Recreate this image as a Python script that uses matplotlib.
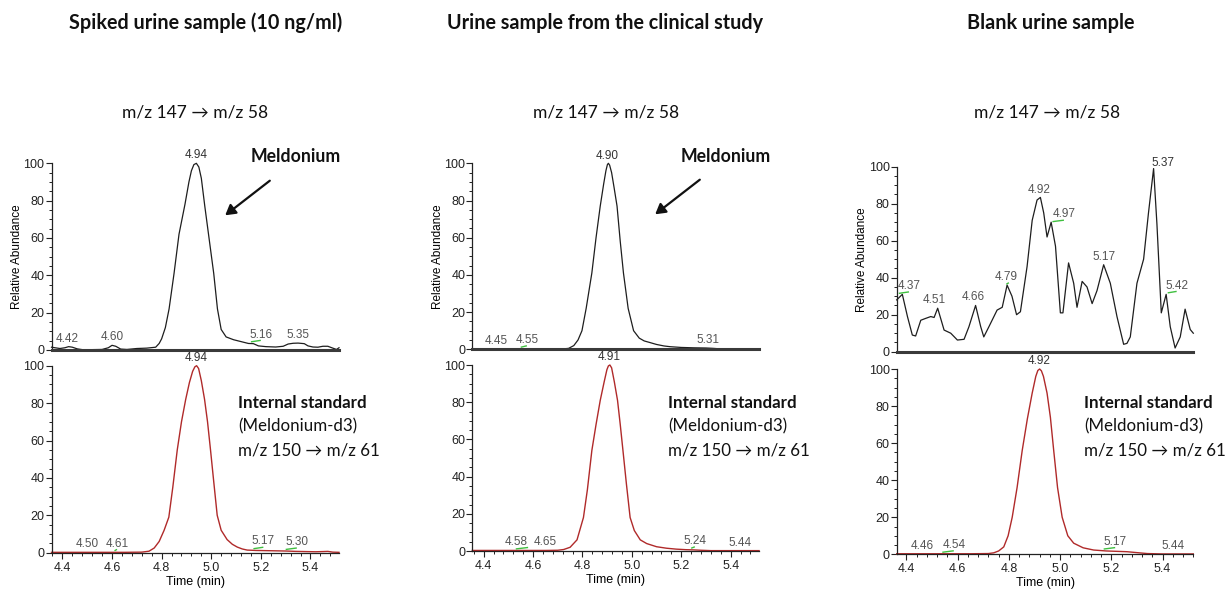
import numpy as np
import matplotlib
matplotlib.use("Agg")
import matplotlib.pyplot as plt
from matplotlib.ticker import MultipleLocator

# ── Data ──────────────────────────────────────────────────────────────────────
# Spiked urine sample, m/z 147 -> 58
SPIKE_T = [4.356, 4.37, 4.39, 4.41, 4.425, 4.44, 4.46, 4.48, 4.52, 4.56, 4.585, 4.60,
           4.615, 4.635, 4.66, 4.70, 4.74, 4.776, 4.79, 4.80, 4.815, 4.83, 4.85, 4.87,
           4.894, 4.91, 4.92, 4.93, 4.94, 4.95, 4.96, 4.974, 4.985, 4.997, 5.01, 5.025,
           5.04, 5.06, 5.09, 5.12, 5.15, 5.17, 5.19, 5.22, 5.26, 5.29, 5.31, 5.33, 5.35,
           5.375, 5.39, 5.41, 5.43, 5.45, 5.47, 5.49, 5.505, 5.515]
SPIKE_V = [1.5, 1.2, 0.8, 1.2, 1.8, 1.5, 0.6, 0.2, 0.2, 0.3, 1.2, 2.5,
           2.0, 0.5, 0.3, 0.8, 1.0, 1.5, 3.5, 6, 12, 22, 41, 62,
           78, 90, 96, 99.3, 100, 98, 92, 77, 66, 54, 41, 22,
           11, 7, 5.5, 4.5, 3.5, 3.4, 2.2, 1.8, 1.6, 2.0, 3.2, 3.6, 3.7,
           3.4, 2.2, 1.6, 1.5, 2.0, 2.0, 1.0, 0.3, 1.2]
# Spiked urine sample, internal standard m/z 150 -> 61
SPIKE_IS_T = [4.356, 4.45, 4.55, 4.65, 4.72, 4.749, 4.77, 4.79, 4.81, 4.829, 4.845, 4.863,
              4.88, 4.897, 4.912, 4.925, 4.934, 4.941, 4.949, 4.96, 4.973, 4.985, 4.997,
              5.01, 5.024, 5.04, 5.064, 5.085, 5.105, 5.125, 5.145, 5.18, 5.22, 5.26,
              5.30, 5.34, 5.38, 5.42, 5.45, 5.47, 5.49, 5.515]
SPIKE_IS_V = [0.2, 0.2, 0.2, 0.2, 0.3, 0.8, 2.5, 6, 12, 19, 35, 55,
              70, 82, 91, 97, 99.4, 100, 98.5, 92, 82, 70, 55,
              38, 20, 12, 7, 4.5, 3, 2, 1.4, 1.2, 1.1, 1.0,
              0.9, 0.7, 0.6, 0.5, 0.6, 0.7, 0.3, 0.2]

# Clinical study sample, m/z 147 -> 58
CLIN_T = [4.354, 4.45, 4.55, 4.65, 4.72, 4.744, 4.765, 4.782, 4.798, 4.815, 4.838, 4.855,
          4.872, 4.886, 4.895, 4.901, 4.905, 4.91, 4.918, 4.928, 4.94, 4.953, 4.966, 4.985,
          5.007, 5.03, 5.05, 5.074, 5.1, 5.13, 5.155, 5.2, 5.25, 5.3, 5.33, 5.36, 5.4,
          5.45, 5.515]
CLIN_V = [0.2, 0.2, 0.3, 0.2, 0.2, 0.5, 2, 5, 10, 22, 41, 60,
          77, 89, 96, 99.3, 100, 99, 95, 87, 77, 58, 41, 22,
          10, 6, 4.5, 3.6, 2.6, 1.8, 1.4, 1.0, 0.8, 0.7, 0.5, 0.2, 0.2,
          0.2, 0.2]
# Clinical study sample, internal standard
CLIN_IS_T = [4.354, 4.45, 4.55, 4.65, 4.70, 4.724, 4.75, 4.778, 4.804, 4.82, 4.838, 4.855,
             4.872, 4.888, 4.899, 4.905, 4.911, 4.918, 4.929, 4.942, 4.953, 4.964, 4.978,
             4.993, 5.01, 5.034, 5.06, 5.1, 5.14, 5.18, 5.22, 5.25, 5.28, 5.32, 5.4, 5.515]
CLIN_IS_V = [0.3, 0.3, 0.3, 0.3, 0.4, 0.8, 2, 6, 18, 33, 54, 68,
             81, 91, 97.5, 99.5, 100, 98.5, 91, 81, 68, 54, 36,
             18, 11, 6, 4, 2.3, 1.5, 1.0, 0.7, 0.6, 0.4, 0.2, 0.2, 0.2]

# Blank urine sample, m/z 147 -> 58
BLANK_T = [4.362, 4.384, 4.404, 4.423, 4.436, 4.456, 4.475, 4.495, 4.508, 4.522, 4.547,
           4.573, 4.599, 4.625, 4.644, 4.67, 4.69, 4.702, 4.722, 4.754, 4.774, 4.793,
           4.812, 4.83, 4.845, 4.871, 4.891, 4.91, 4.923, 4.936, 4.949, 4.965, 4.982,
           5.001, 5.011, 5.033, 5.053, 5.066, 5.086, 5.105, 5.125, 5.144, 5.17, 5.196,
           5.222, 5.248, 5.261, 5.274, 5.3, 5.326, 5.345, 5.365, 5.378, 5.395, 5.414,
           5.43, 5.449, 5.469, 5.488, 5.508, 5.52]
BLANK_V = [28, 31, 19, 9, 8.5, 17, 18, 19, 18.5, 23.5, 11.7,
           10, 6.3, 6.7, 13.5, 25, 13.5, 8, 13.5, 22.5, 24, 36,
           30, 20, 21.6, 46, 71, 82, 83.4, 75, 62, 70, 57,
           21, 21, 48, 37, 24, 38, 35, 26, 33, 47, 37,
           19, 4, 4.5, 8, 37, 50, 75, 99, 69, 21, 31,
           13.5, 2, 8, 23, 12, 10]
# Blank urine sample, internal standard
BLANK_IS_T = [4.362, 4.45, 4.55, 4.65, 4.72, 4.741, 4.76, 4.78, 4.797, 4.813, 4.832, 4.852,
              4.872, 4.891, 4.905, 4.913, 4.92, 4.927, 4.935, 4.949, 4.962, 4.975, 4.99,
              5.008, 5.03, 5.053, 5.09, 5.131, 5.18, 5.22, 5.261, 5.3, 5.34, 5.4, 5.52]
BLANK_IS_V = [0.3, 0.3, 0.3, 0.3, 0.4, 0.8, 1.8, 4, 10, 20, 36, 56,
              73, 87, 96, 99.2, 100, 99, 96, 87, 74, 56, 36,
              20, 10, 6, 3.5, 2.3, 1.8, 1.6, 1.4, 0.9, 0.4, 0.2, 0.2]

# Retention-time labels printed on each trace
SPIKE_LABELS = [4.42, 4.60, 4.94, 5.16, 5.35]
SPIKE_IS_LABELS = [4.50, 4.61, 4.94, 5.17, 5.30]
CLIN_LABELS = [4.45, 4.55, 4.90, 5.31]
CLIN_IS_LABELS = [4.58, 4.65, 4.91, 5.24, 5.44]
BLANK_LABELS = [4.37, 4.51, 4.66, 4.79, 4.92, 4.97, 5.17, 5.37, 5.42]
BLANK_IS_LABELS = [4.46, 4.54, 4.92, 5.17, 5.44]

TITLES = ["Spiked urine sample (10 ng/ml)",
          "Urine sample from the clinical study",
          "Blank urine sample"]
TRANSITION = "m/z 147 \u2192 m/z 58"
IS_TEXT = ["Internal standard", "(Meldonium-d3)", "m/z 150 \u2192 m/z 61"]

# ── Layout (pixels on a 1230 x 589 canvas) ────────────────────────────────────
W, H = 1230, 589
# (left, right, top-of-upper, bottom-of-upper, top-of-lower, bottom-of-lower)
PANELS = [(51.5, 339, 163.3, 350, 365.7, 552.7),
          (472.3, 759.3, 163.3, 349.3, 365, 551),
          (896.7, 1193.3, 166.7, 351.7, 369, 554.3)]
XLIMS = [(4.356, 5.515), (4.354, 5.516), (4.362, 5.52)]

# per-label horizontal shift (min) for labels drawn beside a green marker
LABEL_DX = [[0, 0, 0, 0.04, 0],
            [0, 0.01, 0, 0.04, 0.045],
            [0, 0.025, 0, 0],
            [-0.05, 0, 0, 0.015, 0],
            [0.04, 0, 0, 0, 0, 0.045, 0, 0.03, 0.035],
            [0, 0.045, 0, 0.045, 0]]
GREEN = [[0, 0, 0, 1, 0],
         [0, 1, 0, 1, 1],
         [0, 1, 0, 0],
         [1, 0, 0, 1, 0],
         [1, 0, 0, 1, 0, 1, 0, 0, 1],
         [0, 1, 0, 1, 0]]

TICK_FONT = "Liberation Sans"
TEXT_FONT = ["Lato", "DejaVu Sans"]
BLACK_LINE = "#1e1e1e"
RED_LINE = "#b02a2a"
GREEN_MARK = "#3fbf3f"


def px_axes(left, right, top, bottom):
    return [left / W, 1 - bottom / H, (right - left) / W, (bottom - top) / H]


def style_axes(ax, xlim, lower):
    ax.set_xlim(*xlim)
    ax.set_ylim(0, 100)
    ax.spines[["top", "right"]].set_visible(False)
    ax.spines["left"].set_linewidth(0.9)
    ax.spines["left"].set_color("#222222")
    ax.yaxis.set_major_locator(MultipleLocator(20))
    ax.yaxis.set_minor_locator(MultipleLocator(5))
    ax.tick_params(axis="y", which="major", length=4, width=0.8, labelsize=9,
                   pad=1, colors="#222222")
    ax.tick_params(axis="y", which="minor", length=2.5, width=0.7, colors="#222222")
    for lab in ax.get_yticklabels():
        lab.set_family(TICK_FONT)
    if lower:
        ax.spines["bottom"].set_linewidth(0.9)
        ax.spines["bottom"].set_color("#222222")
        ax.xaxis.set_major_locator(MultipleLocator(0.2))
        ax.xaxis.set_minor_locator(MultipleLocator(0.04))
        ax.tick_params(axis="x", which="major", length=4.5, width=0.8, labelsize=9,
                       pad=2, colors="#222222")
        ax.tick_params(axis="x", which="minor", length=2.5, width=0.7, colors="#222222")
        ax.set_xticks(ax.get_xticks())
        ax.set_xticklabels([f"{t:.1f}" for t in ax.get_xticks()], family=TICK_FONT)
        ax.set_xlim(*xlim)
        ax.set_xlabel("Time (min)", fontsize=9, family=TICK_FONT, labelpad=1.5)
    else:
        ax.spines["bottom"].set_linewidth(2.2)
        ax.spines["bottom"].set_color("#3a3a3a")
        ax.tick_params(axis="x", which="both", length=0, labelbottom=False)
        ax.set_ylabel("Relative Abundance", fontsize=8.5, family=TICK_FONT, labelpad=0.5)


def draw_labels(ax, t, v, labels, dxs, greens):
    for lab, dx, g in zip(labels, dxs, greens):
        # label sits just above the local apex of the trace
        y = float(np.max(np.interp(np.linspace(lab - 0.012, lab + 0.012, 13), t, v)))
        top = y > 95
        ax.annotate(f"{lab:.2f}", xy=(lab + dx, y), xytext=(0, 1.5 if not g else 2.0),
                    textcoords="offset points", ha="center", va="bottom",
                    fontsize=8.5, family=TICK_FONT,
                    color="#333333" if top else "#555555", annotation_clip=False)
        if g:
            x0, x1 = sorted((lab, lab + dx if dx != 0 else lab + 0.01))
            ax.plot([x0, x1], [y + 0.8, y + 1.6], color=GREEN_MARK, lw=1.0,
                    solid_capstyle="butt", clip_on=False, zorder=3)


fig = plt.figure(figsize=(W / 100, H / 100), dpi=100)

series = [(SPIKE_T, SPIKE_V, SPIKE_IS_T, SPIKE_IS_V, SPIKE_LABELS, SPIKE_IS_LABELS),
          (CLIN_T, CLIN_V, CLIN_IS_T, CLIN_IS_V, CLIN_LABELS, CLIN_IS_LABELS),
          (BLANK_T, BLANK_V, BLANK_IS_T, BLANK_IS_V, BLANK_LABELS, BLANK_IS_LABELS)]

title_x = [206, 605, 1051]
trans_x = [195, 606, 1047]

for i, (t1, v1, t2, v2, lab1, lab2) in enumerate(series):
    left, right, top1, bot1, top2, bot2 = PANELS[i]
    ax_top = fig.add_axes(px_axes(left, right, top1, bot1))
    ax_bot = fig.add_axes(px_axes(left, right, top2, bot2))

    ax_top.plot(t1, v1, color=BLACK_LINE, lw=0.9, clip_on=False, zorder=2)
    ax_bot.plot(t2, v2, color=RED_LINE, lw=1.0, clip_on=False, zorder=2)

    style_axes(ax_top, XLIMS[i], lower=False)
    style_axes(ax_bot, XLIMS[i], lower=True)

    draw_labels(ax_top, t1, v1, lab1, LABEL_DX[2 * i], GREEN[2 * i])
    draw_labels(ax_bot, t2, v2, lab2, LABEL_DX[2 * i + 1], GREEN[2 * i + 1])

    # panel headings
    fig.text(title_x[i] / W, 1 - 23 / H, TITLES[i], ha="center", va="center",
             fontsize=14.2, fontweight="bold", family=TEXT_FONT, color="#111111")
    fig.text(trans_x[i] / W, 1 - 113 / H, TRANSITION, ha="center", va="center",
             fontsize=12.5, family=TEXT_FONT, color="#111111")

    # internal standard annotation
    is_x = [238, 668, 1084][i]
    for k, line in enumerate(IS_TEXT):
        fig.text(is_x / W, 1 - (403 + 23.5 * k) / H, line, ha="left", va="center",
                 fontsize=12.2, fontweight="bold" if k == 0 else "normal",
                 family=TEXT_FONT, color="#111111")

    # analyte arrow on the two samples that contain meldonium
    if i < 2:
        mx = [296, 726][i]
        fig.text(mx / W, 1 - 156 / H, "Meldonium", ha="center", va="center",
                 fontsize=12.7, fontweight="bold", family=TEXT_FONT, color="#111111")
        start = [(272, 179), (702, 178)][i]
        end = [(223, 217), (653, 216)][i]
        fig.patches.append(matplotlib.patches.FancyArrowPatch(
            (start[0] / W, 1 - start[1] / H), (end[0] / W, 1 - end[1] / H),
            transform=fig.transFigure, arrowstyle="-|>,head_length=6,head_width=3.5",
            color="#111111", lw=1.6, mutation_scale=1))

fig.savefig("out.png", dpi=100)
